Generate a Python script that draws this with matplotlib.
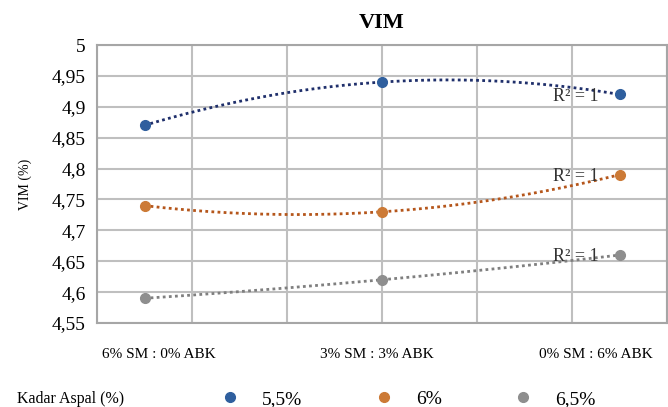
import numpy as np
import matplotlib.pyplot as plt
from matplotlib.lines import Line2D
from matplotlib.ticker import FuncFormatter

plt.rcParams['font.family'] = ['Liberation Serif', 'DejaVu Serif']

categories = ['6% SM : 0% ABK', '3% SM : 3% ABK', '0% SM : 6% ABK']
series_names = ['5,5%', '6%', '6,5%']
vim_55 = [4.87, 4.94, 4.92]
vim_60 = [4.74, 4.73, 4.79]
vim_65 = [4.59, 4.62, 4.66]

marker_colors = ['#2F5F9E', '#CC7A36', '#8E8E8E']
trend_colors = ['#1F2F6B', '#B5561B', '#7F7F7F']

x_pos = np.array([0.5, 3.0, 5.5])

fig = plt.figure(figsize=(6.68, 4.07), dpi=100)
ax = fig.add_axes([97 / 668, 1 - 323 / 407, 570 / 668, 278 / 407])

for vals, mc, tc in zip([vim_55, vim_60, vim_65], marker_colors, trend_colors):
    coef = np.polyfit(x_pos, vals, 2)
    xs = np.linspace(x_pos[0], x_pos[-1], 200)
    ax.plot(xs, np.polyval(coef, xs), linestyle=(0, (1, 1.2)), color=tc, lw=2, zorder=2)
    ax.plot(x_pos, vals, 'o', color=mc, ms=7, zorder=3)
    ax.text(5.04, vals[-1] - 0.003, 'R² = 1',
            fontsize=13, ha='center', va='center', color='#333333', zorder=4)

ax.set_xlim(0, 6)
ax.set_ylim(4.55, 5.0)
ax.set_yticks(np.arange(4.55, 5.001, 0.05))
ax.yaxis.set_major_formatter(FuncFormatter(lambda v, p: ('%g' % round(v, 2)).replace('.', ',')))
ax.set_xticks(np.arange(0, 7, 1), minor=True)
ax.set_xticks([0.65, 2.95, 5.25])
ax.set_xticklabels(categories, fontsize=11)
ax.tick_params(axis='x', which='both', length=0, pad=18)
ax.tick_params(axis='y', length=0, labelsize=14, pad=8)
ax.grid(True, which='minor', axis='x', color='#BFBFBF', lw=1.5)
ax.grid(True, which='major', axis='y', color='#BFBFBF', lw=1.5)
for s in ax.spines.values():
    s.set_color('#A6A6A6')
    s.set_linewidth(1.5)
ax.set_axisbelow(True)

ax.set_ylabel('VIM (%)', fontsize=10, labelpad=14)
ax.set_title('VIM', fontsize=16, fontweight='bold', pad=12)

handles = [Line2D([], [], marker='o', ls='', color=c, ms=7) for c in marker_colors]
fig.legend(handles, series_names, loc='center left', bbox_to_anchor=(220 / 668, 1 - 399 / 407),
           ncol=3, frameon=False, fontsize=14, handlelength=1.0, handletextpad=1.15,
           columnspacing=3.7, borderpad=0, borderaxespad=0)
fig.text(17 / 668, 1 - 399 / 407, 'Kadar Aspal (%)', fontsize=11.5, va='center')

fig.savefig('out.png', dpi=100)
